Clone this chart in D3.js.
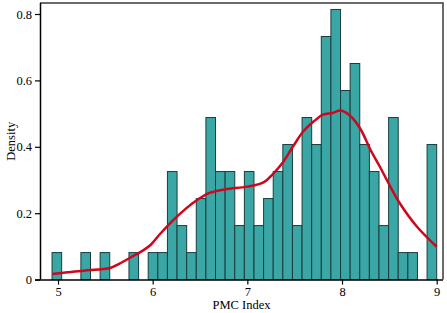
<!DOCTYPE html>
<html>
<head>
<meta charset="utf-8">
<script src="https://cdn.jsdelivr.net/npm/d3@7"></script>
<style>
  body { margin: 0; background: #fff; }
  svg { display: block; }
  svg text { font-family: "Liberation Serif", "DejaVu Serif", serif; }
</style>
</head>
<body>
<svg id="chart"></svg>
<script>
// histogram bins (PMC Index), 40 equal bins from min to max
const binMin = 4.937;
const binMax = 9.0;
const binCounts = [
    1, 0, 0, 1, 0, 1, 0, 0, 1, 0,
    1, 1, 4, 2, 1, 3, 6, 4, 4, 2,
    4, 2, 3, 4, 5, 2, 6, 5, 9, 10,
    7, 8, 5, 4, 2, 6, 1, 1, 0, 5
];

// density curve
const curveX = [4.94, 5.1, 5.27, 5.45, 5.55, 5.65, 5.8, 5.9, 5.98, 6.08, 6.22, 6.36, 6.47, 6.6, 6.77, 7.0,
    7.17, 7.27, 7.37, 7.48, 7.59, 7.7, 7.8, 7.9, 7.98, 8.07, 8.19, 8.3, 8.4, 8.51, 8.61, 8.79, 9.0];
const curveY = [0.017, 0.022, 0.027, 0.031, 0.035, 0.048, 0.072, 0.088, 0.105, 0.138, 0.18, 0.216, 0.24, 0.261, 0.272, 0.28,
    0.293, 0.318, 0.351, 0.40, 0.446, 0.476, 0.497, 0.502, 0.509, 0.497, 0.456, 0.391, 0.34, 0.28, 0.23, 0.16, 0.099];

const xTicks = [5, 6, 7, 8, 9];
const yTicks = [0, 0.2, 0.4, 0.6, 0.8];
const yTickLabels = ["0", "0.2", "0.4", "0.6", "0.8"];

const width = 447, height = 313;
const frame = { left: 40, right: 443, top: 3, bottom: 279.6 };

const svg = d3.select("#chart").attr("width", width).attr("height", height);

const x = d3.scaleLinear().domain([5, 9]).range([58, 436.7]);
const y = d3.scaleLinear().domain([0, 0.8]).range([frame.bottom, 14]);

const nBins = binCounts.length;
const binW = (binMax - binMin) / nBins;
const total = d3.sum(binCounts);
const bins = binCounts.map((c, i) => ({
    x0: binMin + i * binW,
    x1: binMin + (i + 1) * binW,
    density: c / (total * binW)
})).filter(d => d.density > 0);

// 枠線 (上と右)
svg.append("path")
    .attr("d", `M${frame.left},${frame.top}H${frame.right}V${frame.bottom}`)
    .attr("fill", "none")
    .attr("stroke", "#3a3a3a")
    .attr("stroke-width", 1.5);

// 棒
svg.append("g").selectAll("rect")
    .data(bins)
    .enter().append("rect")
    .attr("x", d => x(d.x0))
    .attr("y", d => y(d.density))
    .attr("width", d => x(d.x1) - x(d.x0))
    .attr("height", d => y(0) - y(d.density))
    .attr("fill", "#3aa6a6")
    .attr("stroke", "#1c3c3c")
    .attr("stroke-width", 1);

// 密度曲線
const line = d3.line()
    .x(d => x(d[0]))
    .y(d => y(d[1]))
    .curve(d3.curveCatmullRom);

svg.append("path")
    .datum(curveX.map((v, i) => [v, curveY[i]]))
    .attr("d", line)
    .attr("fill", "none")
    .attr("stroke", "#d0061c")
    .attr("stroke-width", 2.5)
    .attr("stroke-linejoin", "round");

// x軸
const xaxis = d3.axisBottom(x).tickValues(xTicks).tickSize(5).tickSizeOuter(0).tickFormat(d3.format("d"));
const xg = svg.append("g")
    .attr("transform", `translate(0, ${frame.bottom})`)
    .call(xaxis);
xg.select(".domain").attr("d", `M${frame.left - 5},0.5H${frame.right}`);

// y軸
const yaxis = d3.axisLeft(y).tickValues(yTicks).tickSize(5).tickSizeOuter(0)
    .tickFormat((d, i) => yTickLabels[i]);
const yg = svg.append("g")
    .attr("transform", `translate(${frame.left}, 0)`)
    .call(yaxis);
yg.select(".domain").attr("d", `M0.5,${frame.top}V${frame.bottom}`);

svg.selectAll("g").attr("font-family", null);
svg.selectAll(".domain").attr("stroke", "#000").attr("stroke-width", 1.5);
svg.selectAll(".tick line").attr("stroke", "#000").attr("stroke-width", 1.2);
svg.selectAll(".tick text")
    .style("font-family", "'Liberation Serif', serif")
    .style("font-size", "12.5px")
    .attr("fill", "#000");

// 軸ラベル
svg.append("text")
    .attr("x", (frame.left + frame.right) / 2)
    .attr("y", 309)
    .attr("text-anchor", "middle")
    .attr("font-size", "12.5px")
    .text("PMC Index");

svg.append("text")
    .attr("transform", "rotate(-90)")
    .attr("x", -(frame.top + frame.bottom) / 2)
    .attr("y", 15)
    .attr("text-anchor", "middle")
    .attr("font-size", "12.5px")
    .text("Density");
</script>
</body>
</html>
